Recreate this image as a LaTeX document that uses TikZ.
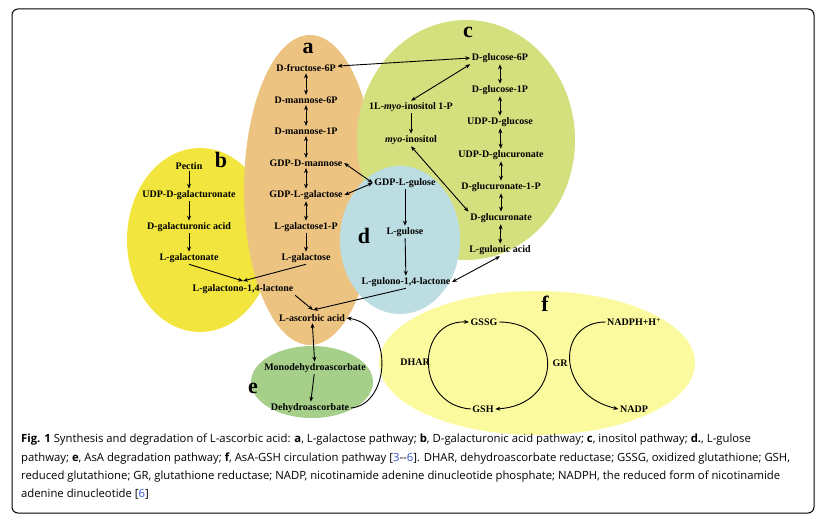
\documentclass[tikz,border=0pt]{standalone}
\usepackage{fontspec}
\setmainfont{Liberation Serif}
\newfontfamily\capfont{Open Sans}
\usetikzlibrary{arrows.meta}
\definecolor{ca}{HTML}{EDC382}
\definecolor{cb}{HTML}{F2E63E}
\definecolor{cc}{HTML}{D4E07E}
\definecolor{cd}{HTML}{BCDDE2}
\definecolor{ce}{HTML}{A6CF8A}
\definecolor{cf}{HTML}{FCFA9E}
\definecolor{lnk}{HTML}{3355CC}
\begin{document}
\begin{tikzpicture}[x=1pt,y=-1pt,
 t/.style={font=\bfseries\fontsize{10}{11}\selectfont,inner sep=1.5pt},
 L/.style={font=\bfseries\fontsize{22}{22}\selectfont,inner sep=0pt},
 ar/.style={-{Stealth[length=5pt,width=4pt]},line width=0.9pt},
 dar/.style={{Stealth[length=5pt,width=4pt]}-{Stealth[length=5pt,width=4pt]},line width=0.9pt}]
\useasboundingbox (0,0) rectangle (828,527);
\draw[line width=1pt,rounded corners=6pt] (12,9) rectangle (814,513);
% ellipses
\fill[cf] (537,363) ellipse [x radius=158,y radius=72];
\fill[cb] (200,240) ellipse [x radius=73,y radius=92];
\fill[ca] (310,190) ellipse [x radius=66,y radius=155];
\fill[cc] (466,140) ellipse [x radius=109,y radius=120];
\fill[cd] (400,240) ellipse [x radius=60,y radius=74];
\fill[ce] (312,382) ellipse [x radius=61,y radius=36];
% labels
\node[L] (la) at (308,48) {a};
\node[L] (lb) at (221,160) {b};
\node[L] (lc) at (468,32) {c};
\node[L] (ld) at (364,236) {d};
\node[L] (le) at (253,388) {e};
\node[L] (lf) at (545,304) {f};
% a
\node[t] (a1) at (306,68) {D-fructose-6P};
\node[t] (a2) at (306,100) {D-mannose-6P};
\node[t] (a3) at (306,131) {D-mannose-1P};
\node[t] (a4) at (306,163) {GDP-D-mannose};
\node[t] (a5) at (306,195) {GDP-L-galactose};
\node[t] (a6) at (306,227) {L-galactose1-P};
\node[t] (a7) at (306,258) {L-galactose};
\node[t] (gl) at (243,289) {L-galactono-1,4-lactone};
\node[t] (asa) at (312,318) {L-ascorbic acid};
% b
\node[t] (b1) at (189,166) {Pectin};
\node[t] (b2) at (189,195) {UDP-D-galacturonate};
\node[t] (b3) at (189,227) {D-galacturonic acid};
\node[t] (b4) at (189,258) {L-galactonate};
% c
\node[t] (c1) at (500,58) {D-glucose-6P};
\node[t] (c2) at (500,90) {D-glucose-1P};
\node[t] (c3) at (500,122) {UDP-D-glucose};
\node[t] (c4) at (501,155) {UDP-D-glucuronate};
\node[t] (c5) at (501,187) {D-glucuronate-1-P};
\node[t] (c6) at (501,218) {D-glucuronate};
\node[t] (c7) at (500,250) {L-gulonic acid};
\node[t] (i1) at (411,107) {1L-\textit{myo}-inositol 1-P};
\node[t] (i2) at (411,140) {\textit{myo}-inositol};
% d
\node[t] (d1) at (405,183) {GDP-L-gulose};
\node[t] (d2) at (405,232) {L-gulose};
\node[t] (d3) at (406,282) {L-gulono-1,4-lactone};
% e
\node[t] (e1) at (315,368) {Monodehydroascorbate};
\node[t] (e2) at (310,408) {Dehydroascorbate};
% f
\node[t] (gssg) at (484,322) {GSSG};
\node[t] (gsh) at (483,409) {GSH};
\node[t] (nadph) at (634,322) {NADPH+H\textsuperscript{+}};
\node[t] (nadp) at (634,409) {NADP};
\node[t] (dhar) at (415,362) {DHAR};
\node[t] (gr) at (560,363) {GR};
% arrows
\foreach \u/\v in {a1/a2,a2/a3,a3/a4,a4/a5,a5/a6,c1/c2,c2/c3,c3/c4,c4/c5,c5/c6,c6/c7}
  \draw[dar] (\u) -- (\v);
\foreach \u/\v in {a6/a7,b1/b2,b2/b3,b3/b4,i1/i2,d1/d2,d2/d3,e1/e2}
  \draw[ar] (\u) -- (\v);
\draw[dar] (a1) -- (c1.west);
\draw[dar] (c1.south west) -- (i1.north);
\draw[dar] (i2.south) -- (c6.north west);
\draw[dar] (a4.east) -- (d1.west);
\draw[dar] (a5.east) -- (d1.west);
\draw[dar] (d3.east) -- (c7.south);
\draw[dar] (asa) -- (e1);
\coordinate (m1) at (243,281);
\coordinate (m2) at (313,310);
\draw[ar] (b4.south) -- (m1);
\draw[ar] (a7.south) -- (m1);
\draw[ar] (gl.south east) -- (m2);
\draw[ar] (d3.south) -- (m2);
\draw[ar] (e2.east) .. controls (390,405) and (395,325) .. (asa.east);
\draw[ar] (gsh.west) .. controls (415,405) and (415,320) .. (gssg.west);
\draw[ar] (gssg.east) .. controls (564,322) and (564,405) .. (gsh.east);
\draw[ar] (nadph.west) .. controls (556,322) and (556,395) .. (nadp.west);
% caption
\node[anchor=north west,align=left,inner sep=0pt,font=\capfont\fontsize{11.3}{18.3}\selectfont] (cap) at (21,434)
{\textbf{Fig. 1} Synthesis and degradation of L-ascorbic acid: \textbf{a}, L-galactose pathway; \textbf{b}, D-galacturonic acid pathway; \textbf{c}, inositol pathway; \textbf{d.}, L-gulose\\
pathway; \textbf{e}, AsA degradation pathway; \textbf{f}, AsA-GSH circulation pathway [\textcolor{lnk}{3}--\textcolor{lnk}{6}]. DHAR, dehydroascorbate reductase; GSSG, oxidized glutathione; GSH,\\
reduced glutathione; GR, glutathione reductase; NADP, nicotinamide adenine dinucleotide phosphate; NADPH, the reduced form of nicotinamide\\
adenine dinucleotide [\textcolor{lnk}{6}]};
\end{tikzpicture}
\end{document}
